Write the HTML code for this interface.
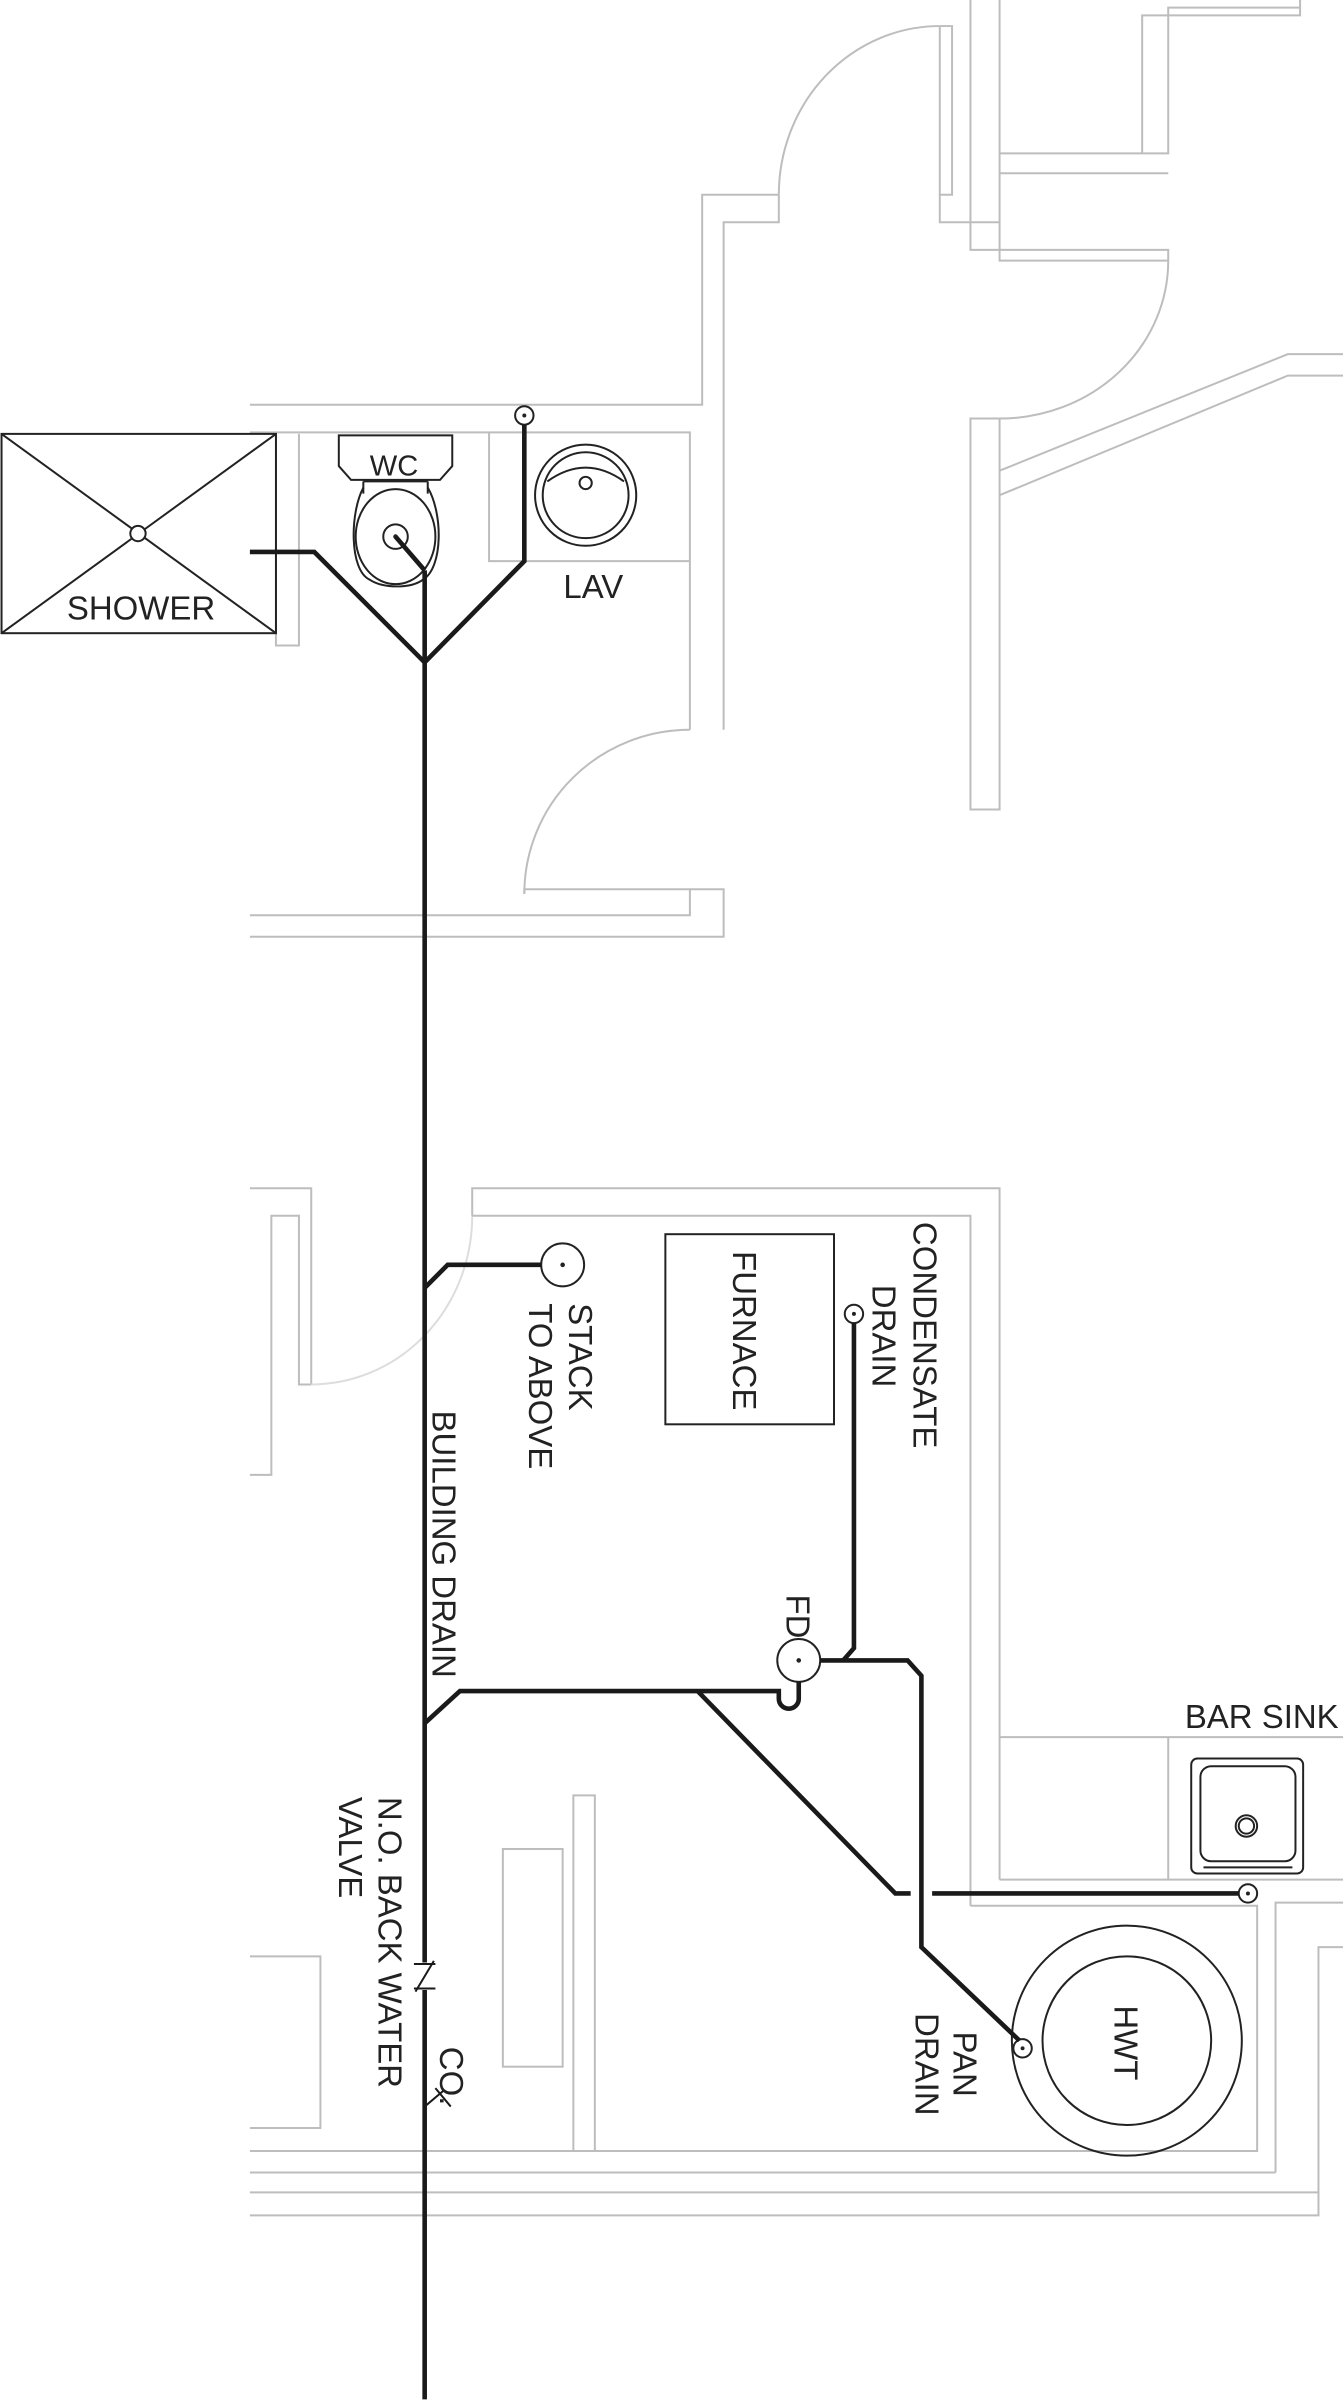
<!DOCTYPE html>
<html><head><meta charset="utf-8"><style>
html,body{margin:0;padding:0;background:#fff;}
svg{display:block;}
text{font-family:"Liberation Sans",sans-serif;fill:#222;}
</style></head><body>
<svg width="1343" height="2404" viewBox="0 0 876 1568" preserveAspectRatio="none" xmlns="http://www.w3.org/2000/svg">
<g fill="none" stroke="#bdbdbd" stroke-width="1.3">
<polyline points="163,264 458,264 458,127 508,127"/>
<polyline points="163,282 450,282 450,476"/>
<polyline points="472,476 472,145 508,145 508,127"/>
<path d="M508,127 A105,110 0 0 1 613,17"/>
<polyline points="613,17 621,17 621,127 613,127 613,17"/>
<polyline points="613,127 613,145 652,145"/>
<polyline points="633,0 633,163 762,163 762,170"/>
<polyline points="652,0 652,170 762,170"/>
<polyline points="652,100 762,100 762,5 848,5 848,0"/>
<polyline points="652,113 762,113"/>
<polyline points="745,100 745,10 848,10 848,5"/>
<path d="M762,170 A110,103 0 0 1 652,273"/>
<polyline points="652,273 633,273 633,528 652,528 652,273"/>
<polyline points="652,307 840,231 876,231"/>
<polyline points="652,323 840,245 876,245"/>
<polyline points="180,283 180,421 195,421 195,283"/>
<polyline points="319,282 319,366 450,366"/>
<path d="M450,476 A108,107 0 0 0 342,583"/>
<polyline points="342,583 342,580 450,580 450,597 163,597"/>
<polyline points="163,611 472,611 472,580 450,580"/>
<polyline points="163,775 203,775 203,903"/>
<polyline points="163,962 177,962 177,793 195,793 195,903 203,903"/>
<path d="M203,903 A105,110 0 0 0 308,793" stroke="#ddd"/>
<polyline points="308,793 308,775 652,775 652,1226"/>
<polyline points="308,793 633,793 633,1243"/>
<polyline points="652,1133 876,1133"/>
<polyline points="762,1133 762,1226"/>
<polyline points="652,1226 876,1226"/>
<polyline points="633,1243 820,1243 820,1403 163,1403"/>
<polyline points="832,1417 163,1417"/>
<polyline points="832,1417 832,1241 876,1241"/>
<polyline points="876,1270 860,1270 860,1445 163,1445"/>
<polyline points="163,1430 860,1430"/>
<polyline points="163,1276 209,1276 209,1388 163,1388"/>
<polyline points="374,1403 374,1171 388,1171 388,1403"/>
<rect x="328" y="1206" width="39" height="142"/>
</g>
<g fill="none" stroke="#222" stroke-width="1.3">
<rect x="1" y="283" width="179" height="130"/>
<line x1="1" y1="283" x2="180" y2="413"/>
<line x1="1" y1="413" x2="180" y2="283"/>
<circle cx="90" cy="348" r="5" fill="#fff"/>
<path d="M221,284 H295 V304 L287,313 H229 L221,304 Z"/>
<path d="M237,314 H279 M237,314 V322 M279,314 V322"/>
<path d="M237,318 C228,335 228,372 241,378 C250,384 268,384 276,378 C289,370 289,335 279,318"/>
<ellipse cx="258" cy="350" rx="26" ry="31"/>
<circle cx="258" cy="350" r="8"/>
<circle cx="382" cy="323" r="33"/>
<circle cx="382" cy="323" r="28"/>
<path d="M357,314 Q382,296 407,314"/>
<circle cx="382" cy="315" r="4"/>
<circle cx="342" cy="271" r="6"/>
<rect x="434" y="805" width="110" height="124"/>
<circle cx="367" cy="825" r="14"/>
<circle cx="521" cy="1083" r="14"/>
<circle cx="557" cy="857" r="6"/>
<rect x="777" y="1147" width="73" height="75" rx="4"/>
<rect x="783" y="1152" width="62" height="62" rx="7"/>
<line x1="785" y1="1218" x2="843" y2="1218"/>
<circle cx="813" cy="1191" r="7"/>
<circle cx="813" cy="1191" r="5"/>
<circle cx="735" cy="1331" r="75"/>
<circle cx="735" cy="1331" r="55"/>
<circle cx="814" cy="1235" r="6"/>
<circle cx="667" cy="1336" r="6"/>
</g>
<g fill="#222">
<circle cx="258" cy="350" r="1.5"/><circle cx="342" cy="271" r="1.3"/>
<circle cx="367" cy="825" r="1.5"/><circle cx="521" cy="1083" r="1.5"/>
<circle cx="557" cy="857" r="1.3"/><circle cx="814" cy="1235" r="1.3"/><circle cx="667" cy="1336" r="1.3"/>
</g>
<g fill="none" stroke="#1a1a1a" stroke-width="3" stroke-linejoin="miter">
<polyline points="277,372 277,1280"/>
<polyline points="277,1298 277,1565"/>
<polyline points="163,360 205,360 277,432 342,366 342,277"/>
<polyline points="258,350 277,372"/>
<polyline points="277,840 292,825 353,825"/>
<path d="M277,1124 L300,1103 L508,1103 L508,1108 A6.5,6.5 0 0 0 521,1108 L521,1097"/>
<polyline points="535,1083 592,1083 601,1093 601,1270 665,1331"/>
<polyline points="557,863 557,1075 550,1083"/>
<polyline points="455,1103 584,1235 594,1235"/>
<polyline points="608,1235 808,1235"/>
</g>
<g stroke="#1a1a1a" stroke-width="1.3" fill="none">
<line x1="270" y1="1281" x2="284" y2="1281"/>
<line x1="270" y1="1297" x2="284" y2="1297"/>
<line x1="271" y1="1299" x2="283" y2="1279"/>
<line x1="277" y1="1374" x2="290" y2="1363"/>
<line x1="284" y1="1362" x2="294" y2="1374"/>
</g>
<g font-size="21.5">
<text x="257" y="310" text-anchor="middle" font-size="19">WC</text>
<text x="92" y="404" text-anchor="middle">SHOWER</text>
<text x="387" y="390" text-anchor="middle">LAV</text>
<text x="823" y="1127" text-anchor="middle">BAR SINK</text>
<text transform="translate(371,850) rotate(90)">STACK</text>
<text transform="translate(345,850) rotate(90)">TO ABOVE</text>
<text transform="translate(282,920) rotate(90)">BUILDING DRAIN</text>
<text transform="translate(478,816) rotate(90)">FURNACE</text>
<text transform="translate(596,797) rotate(90)">CONDENSATE</text>
<text transform="translate(569,838) rotate(90)">DRAIN</text>
<text transform="translate(513,1040) rotate(90)">FD</text>
<text transform="translate(247,1172) rotate(90)">N.O. BACK WATER</text>
<text transform="translate(221,1172) rotate(90)">VALVE</text>
<text transform="translate(287,1335) rotate(90)">CO.</text>
<text transform="translate(622,1325) rotate(90)">PAN</text>
<text transform="translate(597,1313) rotate(90)">DRAIN</text>
<text transform="translate(727,1308) rotate(90)">HWT</text>
</g>
</svg>
</body></html>
